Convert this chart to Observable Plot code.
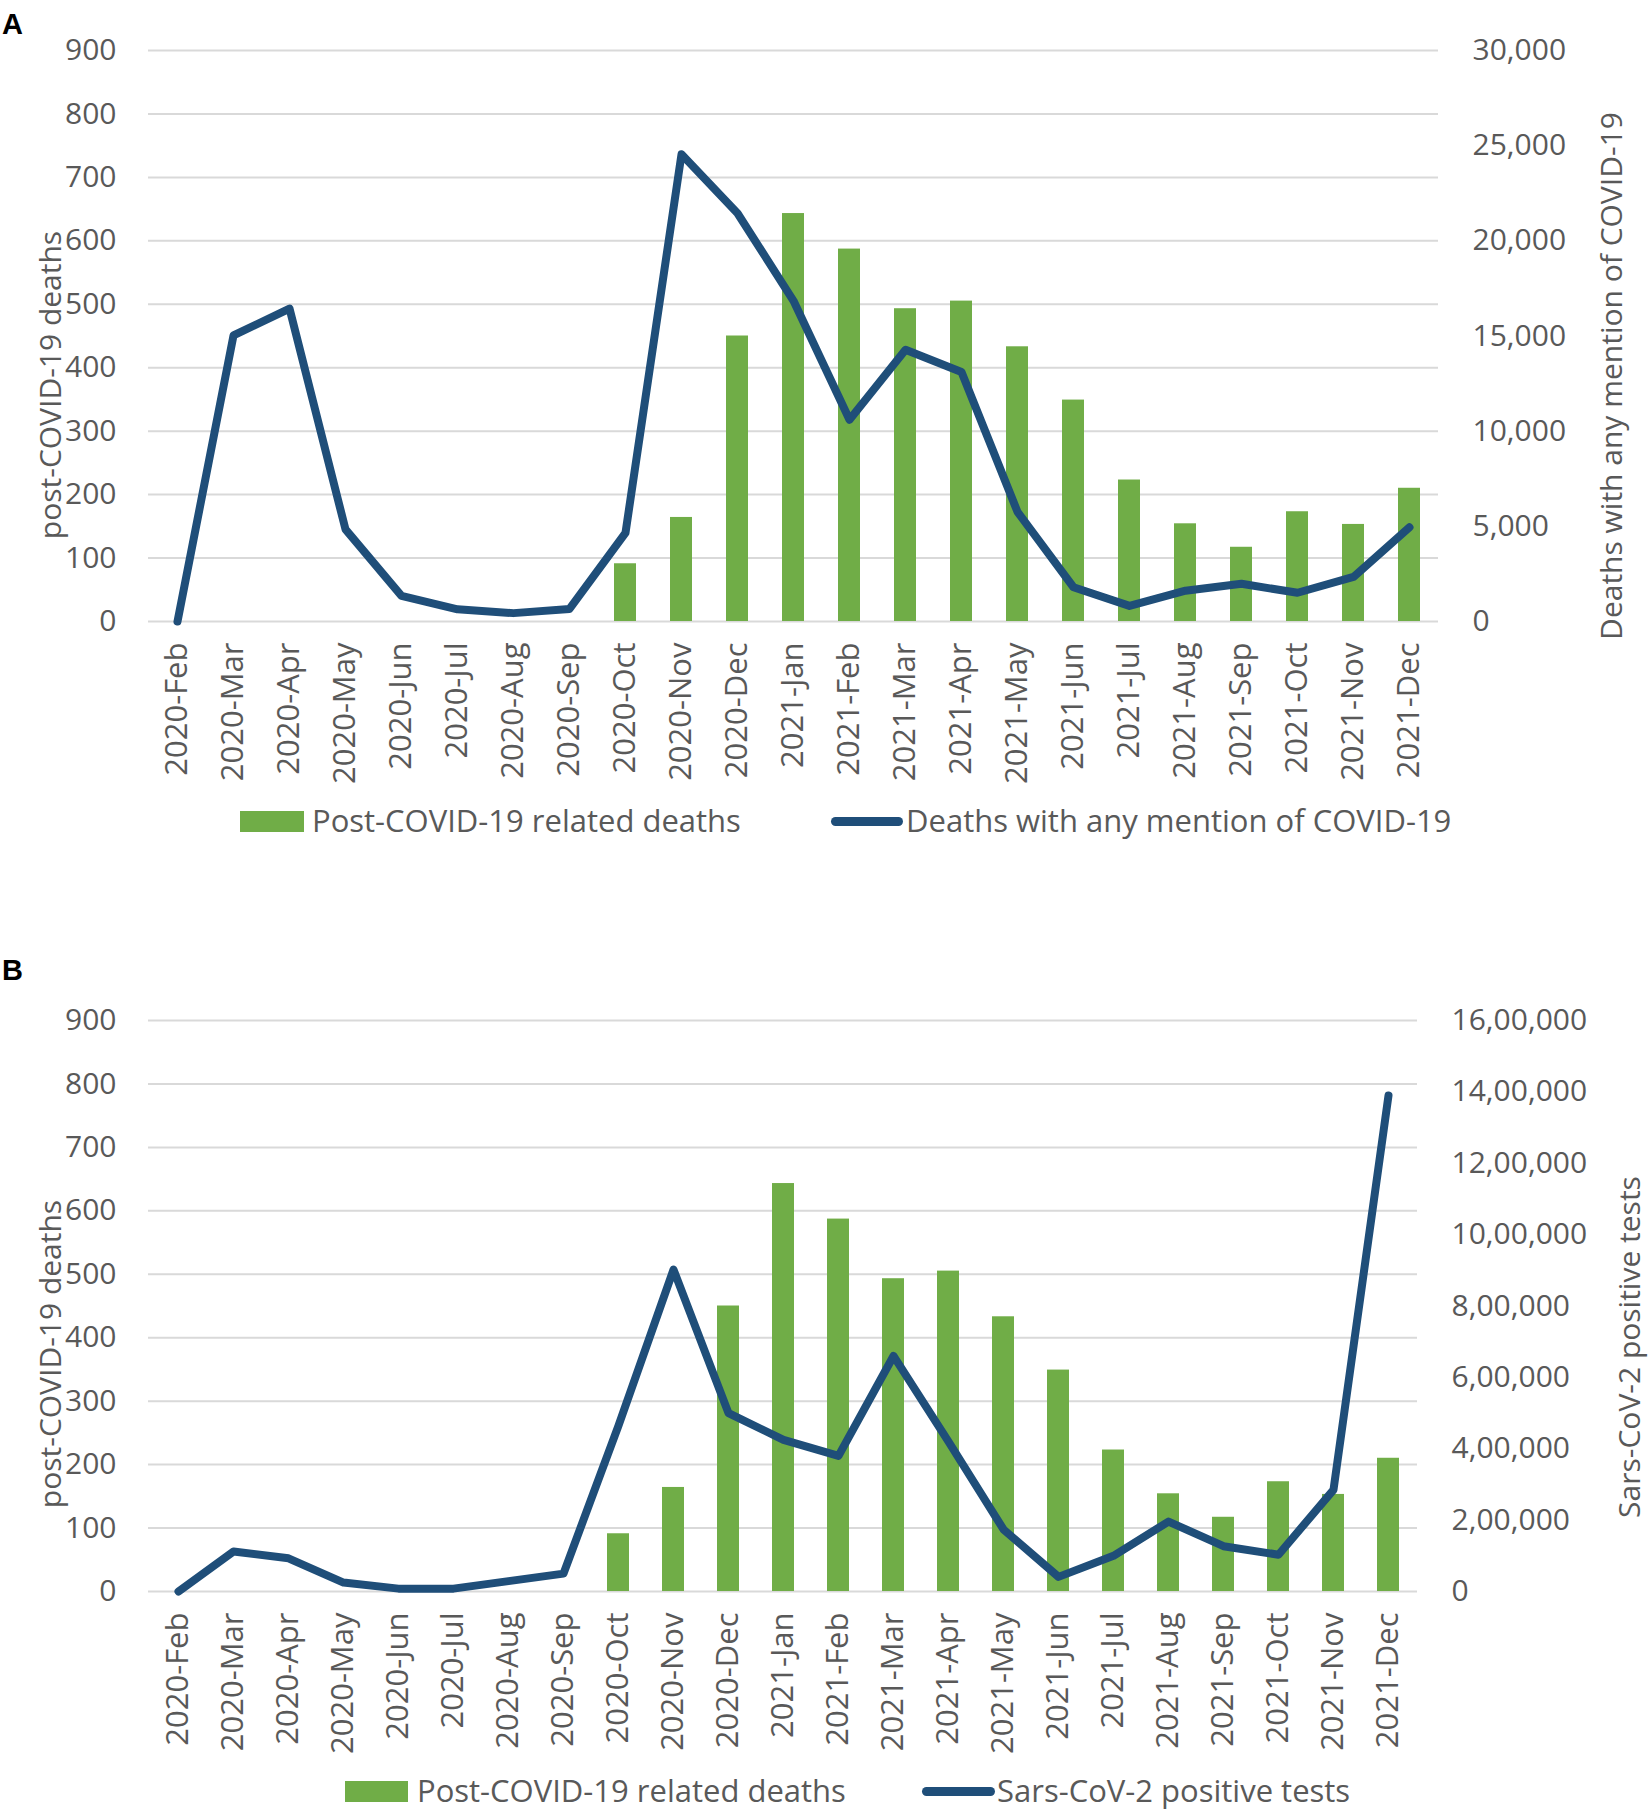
<!DOCTYPE html>
<html><head><meta charset="utf-8">
<script src="https://cdn.jsdelivr.net/npm/d3@7"></script>
<script src="https://cdn.jsdelivr.net/npm/@observablehq/plot@0.6"></script>
<style>
body{margin:0;background:#fff;}
#page{position:relative;width:1650px;height:1812px;font-family:"Open Sans",sans-serif;color:#595959;overflow:hidden;}
.panel{position:absolute;left:0;}
.tag{position:absolute;left:2px;font-family:"Liberation Sans",Arial,sans-serif;font-weight:bold;font-size:29px;line-height:1;color:#000;}
.ytitle{position:absolute;font-size:30px;line-height:1.2;white-space:nowrap;transform:translate(-50%,-50%) rotate(-90deg);}
.ltext{position:absolute;font-size:31px;line-height:42px;height:42px;white-space:nowrap;}
.sw{position:absolute;background:#70AD47;}
.ln{position:absolute;background:#1F4E79;}
</style></head>
<body><div id="page"></div>
<script>
// ---- data ----
const months = ["2020-Feb","2020-Mar","2020-Apr","2020-May","2020-Jun","2020-Jul","2020-Aug","2020-Sep","2020-Oct","2020-Nov","2020-Dec",
  "2021-Jan","2021-Feb","2021-Mar","2021-Apr","2021-May","2021-Jun","2021-Jul","2021-Aug","2021-Sep","2021-Oct","2021-Nov","2021-Dec"];
const postCovidDeaths = [0,0,0,0,0,0,0,0,91,164,450,643,587,493,505,433,349,223,154,117,173,153,210];
const deathsAnyMention = [0,15030,16440,4840,1350,640,440,660,4660,24550,21450,16850,10600,14280,13110,5760,1800,820,1620,1980,1510,2340,4950];
const positiveTests = [0,112000,93000,25000,8000,8000,29000,50000,465000,902000,500000,425000,380000,660000,420000,174000,41000,100000,196000,127000,103000,285000,1390000];
const leftTicks = [0,100,200,300,400,500,600,700,800,900];
const rightTicksA = [0,5000,10000,15000,20000,25000,30000];
const rightTicksB = [0,200000,400000,600000,800000,1000000,1200000,1400000,1600000];
const labels = {
  left: "post-COVID-19 deaths",
  rightA: "Deaths with any mention of COVID-19",
  rightB: "Sars-CoV-2 positive tests",
  bars: "Post-COVID-19 related deaths",
  lineA: "Deaths with any mention of COVID-19",
  lineB: "Sars-CoV-2 positive tests"
};

const fmtUS = d3.format(",");
function fmtIN(n){
  const s = String(n);
  if (s.length <= 3) return s;
  const last3 = s.slice(-3);
  const rest = s.slice(0, -3).replace(/\B(?=(\d{2})+(?!\d))/g, ",");
  return rest + "," + last3;
}

function panel({lineValues, rightTicks, fmt, marginTop, marginRight, height, marginBottom}) {
  const k = 900 / rightTicks[rightTicks.length - 1];
  const rows = months.map((m, i) => ({month: m, bar: postCovidDeaths[i], line: lineValues[i] * k}));
  return Plot.plot({
    width: 1650, height, marginLeft: 148, marginRight, marginTop, marginBottom,
    style: {fontFamily: "Open Sans, sans-serif", fontSize: "30px", color: "#595959", background: "#fff", overflow: "visible"},
    x: {domain: months, paddingInner: 0.6, paddingOuter: 0.3, axis: null},
    y: {domain: [0, 900], axis: null},
    marks: [
      Plot.gridY(leftTicks, {stroke: "#d9d9d9", strokeOpacity: 1, strokeWidth: 2}),
      Plot.barY(rows, {x: "month", y: "bar", fill: "#70AD47"}),
      Plot.line(rows, {x: "month", y: "line", stroke: "#1F4E79", strokeWidth: 8, strokeLinejoin: "round", strokeLinecap: "round"}),
      Plot.axisY(leftTicks, {anchor: "left", tickSize: 0, tickPadding: 32, fontSize: 30, label: null}),
      Plot.axisY(rightTicks.map(t => t * k), {anchor: "right", tickSize: 0, tickPadding: 34, fontSize: 30, tickFormat: d => fmt(Math.round(d / k)), label: null}),
      Plot.axisX({tickRotate: -90, tickSize: 0, tickPadding: 21, fontSize: 31, label: null})
    ]
  });
}

const page = document.getElementById("page");
function add(html){ const t = document.createElement("div"); t.innerHTML = html; const el = t.firstElementChild; page.appendChild(el); return el; }

// Panel A
const a = panel({lineValues: deathsAnyMention, rightTicks: rightTicksA, fmt: fmtUS, marginTop: 50, marginRight: 212, height: 800, marginBottom: 179});
a.classList.add("panel"); a.style.top = "0px"; page.appendChild(a);
// Panel B
const b = panel({lineValues: positiveTests, rightTicks: rightTicksB, fmt: fmtIN, marginTop: 60, marginRight: 233, height: 800, marginBottom: 169});
b.classList.add("panel"); b.style.top = "960px"; page.appendChild(b);

add(`<div class="tag" style="top:10px">A</div>`);
add(`<div class="tag" style="top:956px">B</div>`);

add(`<div class="ytitle" style="left:50px;top:385px">${labels.left}</div>`);
add(`<div class="ytitle" style="left:1611px;top:376px">${labels.rightA}</div>`);
add(`<div class="ytitle" style="left:50px;top:1354px">${labels.left}</div>`);
add(`<div class="ytitle" style="left:1629px;top:1347px">${labels.rightB}</div>`);

// Legend A
add(`<div class="sw" style="left:240px;top:811px;width:64px;height:21px"></div>`);
add(`<div class="ltext" style="left:312px;top:799px">${labels.bars}</div>`);
add(`<div class="ln" style="left:831px;top:817px;width:72px;height:9px;border-radius:4.5px"></div>`);
add(`<div class="ltext" style="left:906px;top:799px">${labels.lineA}</div>`);
// Legend B
add(`<div class="sw" style="left:345px;top:1781px;width:63px;height:21px"></div>`);
add(`<div class="ltext" style="left:417px;top:1769px">${labels.bars}</div>`);
add(`<div class="ln" style="left:922px;top:1787px;width:73px;height:9px;border-radius:4.5px"></div>`);
add(`<div class="ltext" style="left:997px;top:1769px">${labels.lineB}</div>`);
</script>
</body></html>
